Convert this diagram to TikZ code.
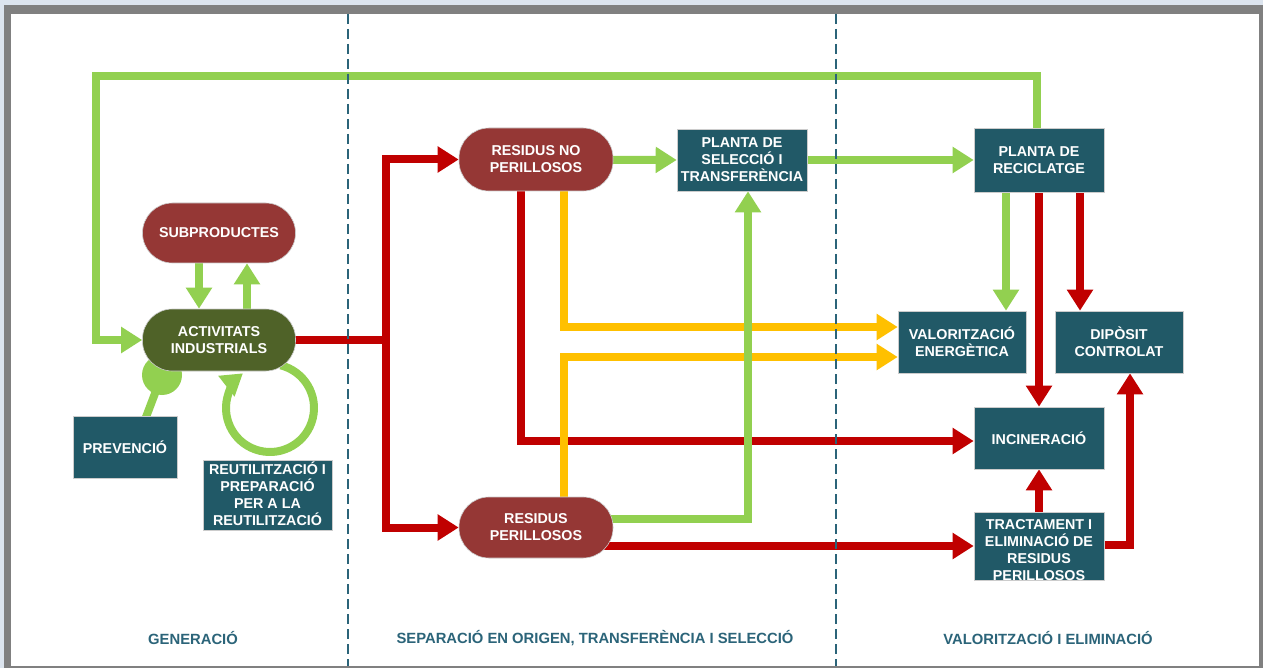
\documentclass[tikz,border=0pt]{standalone}
\usepackage{fontspec}
\setmainfont{Liberation Sans}
\usetikzlibrary{arrows.meta}
\pgfdeclarelayer{back}
\pgfdeclarelayer{bg}
\pgfsetlayers{back,bg,main}
\definecolor{cteal}{HTML}{215967}
\definecolor{cred}{HTML}{C00000}
\definecolor{cgreen}{HTML}{92D050}
\definecolor{cyellow}{HTML}{FFC000}
\definecolor{cpill}{HTML}{953735}
\definecolor{colive}{HTML}{4F6228}
\definecolor{cdash}{HTML}{2B6479}
\definecolor{cframe}{HTML}{808080}
\definecolor{cout}{HTML}{DCE4EE}
\begin{document}
\begin{tikzpicture}[x=1pt,y=-1pt,
  box/.style={draw=white!80!black, line width=0.6pt, fill=cteal, text=white,
    font=\bfseries\fontsize{14.3}{17}\selectfont, align=center, inner sep=0pt},
  pill/.style={box, rounded corners=30pt, fill=cpill},
  txt/.style={text=white, font=\bfseries\fontsize{14.3}{17}\selectfont, align=center, inner sep=0pt},
  lbl/.style={text=cdash, font=\bfseries\fontsize{14.8}{17}\selectfont, inner sep=0pt},
  conn/.style={line width=8pt},
  tip/.style={-{Triangle[width=25pt,length=21pt]}},
  rline/.style={conn, draw=cred},
  rarrow/.style={rline, tip},
  yarrow/.style={conn, draw=cyellow, tip},
  gline/.style={conn, draw=cgreen},
  garrow/.style={gline, tip},
  dashline/.style={draw=cdash, line width=1.4pt, dash pattern=on 10pt off 5pt}
]
\useasboundingbox (0,0) rectangle (1263,668);
\begin{pgfonlayer}{back}
  \fill[cout] (0,0) rectangle (1263,668);
  \fill[cframe] (4,5) rectangle (1263,668);
  \fill[white] (11,14) rectangle (1259,666);
\end{pgfonlayer}

% nodes
\node[pill, minimum width=153pt, minimum height=60pt] (SUB) at (219,233) {SUBPRODUCTES};
\node[pill, fill=colive, minimum width=153pt, minimum height=62pt] (ACT) at (219,340) {ACTIVITATS\\INDUSTRIALS};
\node[box, minimum width=104pt, minimum height=62pt] (PREV) at (125,447) {PREVENCIÓ};
\node[box, minimum width=129pt, minimum height=70pt] (REU) at (267.5,495) {};
\node[txt] (REUtxt) at (267.5,494) {REUTILITZACIÓ I\\PREPARACIÓ\\PER A LA\\REUTILITZACIÓ};
\node[pill, minimum width=154pt, minimum height=63pt] (RNP) at (536,159.5) {RESIDUS NO\\PERILLOSOS};
\node[box, minimum width=130pt, minimum height=62pt] (PST) at (742,160) {PLANTA DE\\SELECCIÓ I\\TRANSFERÈNCIA};
\node[pill, minimum width=154pt, minimum height=61pt] (RP) at (536,527.5) {RESIDUS\\PERILLOSOS};
\node[box, minimum width=130pt, minimum height=64pt] (REC) at (1039,160) {PLANTA DE\\RECICLATGE};
\node[box, minimum width=128pt, minimum height=62pt] (VAL) at (962,342) {VALORITZACIÓ\\ENERGÈTICA};
\node[box, minimum width=128pt, minimum height=62pt] (DIP) at (1119,342) {DIPÒSIT\\CONTROLAT};
\node[box, minimum width=130pt, minimum height=62pt] (INC) at (1039,438) {INCINERACIÓ};
\node[box, minimum width=130pt, minimum height=68pt] (TRA) at (1039,546) {};
\begin{scope}
  \clip (TRA.south west) rectangle (TRA.north east);
  \node[txt] (TRAtxt) at (1039,550) {TRACTAMENT I\\ELIMINACIÓ DE\\RESIDUS\\PERILLOSOS};
\end{scope}

% coordinates
\coordinate (split) at (386,340);
\coordinate (r2) at (521,441);
\coordinate (y1) at (564,327);
\coordinate (y2) at (564,357);
\coordinate (g2) at (748,519);
\coordinate (t1) at (1037,76);
\coordinate (t2) at (96,76);
\coordinate (r5) at (1130,545);
\coordinate (ball) at (162,375);
\coordinate (pv) at (143,425);
\coordinate (loop) at (270,408);

\begin{pgfonlayer}{bg}
  % red
  \draw[rline] (ACT.center) -- (split);
  \draw[rarrow] (split) -- (split |- RNP.west) -- (RNP.west);
  \draw[rarrow] (split) -- (split |- RP.west) -- (RP.west);
  \draw[rarrow] (RNP.center -| r2) -- (r2) -- (r2 -| INC.west);
  \draw[rarrow] (RP.center |- TRA.west) -- (TRA.west);
  \draw[rarrow] (REC.center) -- (INC.north);
  \draw[rarrow] ([xshift=41pt]REC.center) -- ([xshift=-39pt]DIP.north);
  \draw[rarrow] (TRA.center) -- (INC.south);
  \draw[rarrow] (TRA.center |- r5) -- (r5) -- (r5 |- DIP.south);
  % yellow
  \draw[yarrow] (RNP.center -| y1) -- (y1) -- (y1 -| VAL.west);
  \draw[yarrow] (RP.center -| y2) -- (y2) -- (y2 -| VAL.west);
  % green
  \draw[garrow] (RNP.center) -- (PST.west);
  \draw[garrow] (PST.center) -- (REC.west);
  \draw[garrow] (RP.center |- g2) -- (g2) -- (g2 |- PST.south);
  \draw[garrow] ([xshift=-33pt]REC.center) -- ([xshift=44pt]VAL.north);
  \draw[garrow] (REC.center -| t1) -- (t1) -- (t2) -- (t2 |- ACT.west) -- (ACT.west);
  \draw[garrow] ([xshift=-20pt]SUB.south) -- ([xshift=-20pt]ACT.north);
  \draw[garrow] ([xshift=28pt]ACT.north) -- ([xshift=28pt]SUB.south);
  \fill[cgreen] (ball) circle[radius=20];
  \draw[gline] (pv) -- (ball);
  \draw[garrow] (loop) ++(-76:44) arc[start angle=-76, end angle=232, radius=44];
\end{pgfonlayer}

% dashed separators
\draw[dashline] (348,14) -- (348,666);
\draw[dashline] (836,14) -- (836,666);

% section labels
\node[lbl] (L1) at (193,638) {GENERACIÓ};
\node[lbl] (L2) at (595,638) {SEPARACIÓ EN ORIGEN, TRANSFERÈNCIA I SELECCIÓ};
\node[lbl] (L3) at (1048,638) {VALORITZACIÓ I ELIMINACIÓ};
\end{tikzpicture}
\end{document}
